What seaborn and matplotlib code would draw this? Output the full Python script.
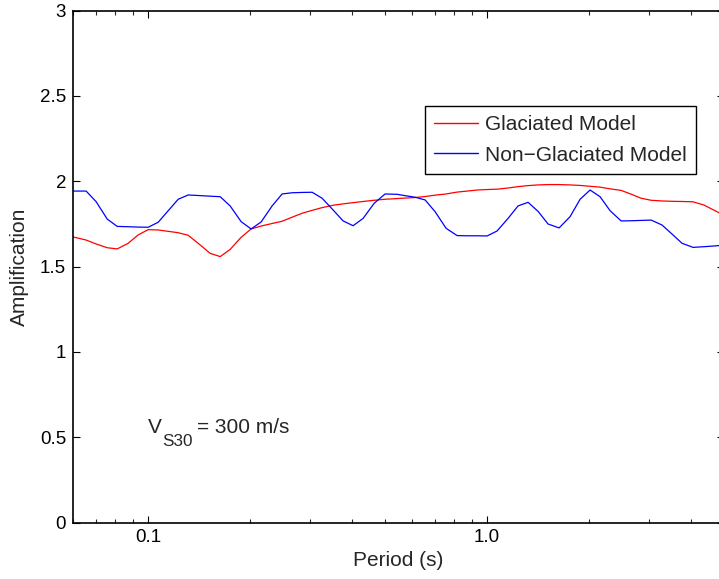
import numpy as np
import pandas as pd
import matplotlib
matplotlib.use("Agg")
import matplotlib.pyplot as plt
import seaborn as sns

periods = [0.0601, 0.0656, 0.0702, 0.0757, 0.0810, 0.0873, 0.0934, 0.100, 0.107, 0.1146,
           0.1226, 0.1312, 0.1404, 0.1524, 0.1631, 0.1745, 0.188, 0.2012, 0.2154, 0.2321,
           0.2484, 0.2659, 0.2846, 0.3046, 0.326, 0.3513, 0.376, 0.4024, 0.4307, 0.4641,
           0.500, 0.5427, 0.5729, 0.6132, 0.6563, 0.7024, 0.7568, 0.8159, 0.873, 0.934,
           1.0, 1.07, 1.153, 1.234, 1.321, 1.414, 1.513, 1.631, 1.757, 1.881,
           2.013, 2.154, 2.306, 2.485, 2.66, 2.847, 3.047, 3.282, 3.513, 3.76,
           4.053, 4.366, 4.80, 5.0]

glaciated = [1.673, 1.655, 1.632, 1.610, 1.603, 1.636, 1.685, 1.716, 1.714, 1.706,
             1.698, 1.683, 1.636, 1.577, 1.558, 1.600, 1.671, 1.720, 1.737, 1.752,
             1.765, 1.789, 1.812, 1.829, 1.845, 1.859, 1.867, 1.874, 1.881, 1.888,
             1.894, 1.898, 1.901, 1.904, 1.910, 1.918, 1.925, 1.936, 1.942, 1.948,
             1.951, 1.953, 1.960, 1.968, 1.974, 1.978, 1.980, 1.980, 1.978, 1.975,
             1.970, 1.965, 1.955, 1.946, 1.924, 1.900, 1.888, 1.884, 1.882, 1.881,
             1.879, 1.860, 1.818, 1.800]

non_glaciated = [1.942, 1.942, 1.880, 1.778, 1.735, 1.733, 1.731, 1.730, 1.759, 1.827,
                 1.894, 1.919, 1.916, 1.912, 1.909, 1.855, 1.763, 1.720, 1.761, 1.855,
                 1.925, 1.932, 1.934, 1.935, 1.900, 1.831, 1.767, 1.739, 1.782, 1.870,
                 1.925, 1.923, 1.915, 1.906, 1.890, 1.821, 1.724, 1.681, 1.680, 1.680,
                 1.679, 1.708, 1.782, 1.855, 1.876, 1.823, 1.749, 1.726, 1.792, 1.894,
                 1.948, 1.909, 1.827, 1.767, 1.768, 1.770, 1.772, 1.743, 1.690, 1.636,
                 1.612, 1.616, 1.622, 1.625]

series_names = ["Glaciated Model", "Non\u2212Glaciated Model"]
series_colors = ["#ff0000", "#0000ff"]
y_ticks = [0, 0.5, 1, 1.5, 2, 2.5, 3]
y_tick_labels = ["0", "0.5", "1", "1.5", "2", "2.5", "3"]
x_ticks = [0.1, 1.0]
x_tick_labels = ["0.1", "1.0"]

df = pd.concat([
    pd.DataFrame({"Period": periods, "Amplification": glaciated, "Model": series_names[0]}),
    pd.DataFrame({"Period": periods, "Amplification": non_glaciated, "Model": series_names[1]}),
])

sns.set_style("ticks")
plt.rcParams["font.family"] = ["Liberation Sans", "DejaVu Sans"]

W, H = 719, 579
fig = plt.figure(figsize=(W / 100, H / 100), dpi=100)
ax = fig.add_axes([73 / W, 1 - 522.5 / H, (724 - 73) / W, (522.5 - 10.5) / H])

sns.lineplot(data=df, x="Period", y="Amplification", hue="Model",
             palette=dict(zip(series_names, series_colors)), estimator=None,
             sort=False, linewidth=0.9, ax=ax)

ax.set_xscale("log")
ax.set_xlim(0.06, 5.0)
ax.set_ylim(0, 3)
ax.set_yticks(y_ticks)
ax.set_yticklabels(y_tick_labels)
ax.set_xticks(x_ticks)
ax.set_xticklabels(x_tick_labels)
ax.xaxis.set_minor_locator(matplotlib.ticker.LogLocator(base=10, subs=np.arange(2, 10)))
ax.xaxis.set_minor_formatter(matplotlib.ticker.NullFormatter())

fs = 13.5
fl = 15
ax.tick_params(axis="both", which="major", direction="in", length=5, width=0.8,
               top=True, right=True, labelsize=fs, pad=5, colors="black")
ax.tick_params(axis="x", which="minor", direction="in", length=3, width=0.8,
               top=True, bottom=True)
for s in ax.spines.values():
    s.set_linewidth(1.2)
    s.set_color("black")

ax.set_xlabel("Period (s)", fontsize=fl, labelpad=3)
ax.set_ylabel("Amplification", fontsize=fl, labelpad=8)

leg = ax.legend(loc="upper right", bbox_to_anchor=(696 / W, 1 - 106 / H),
                bbox_transform=fig.transFigure, borderaxespad=0, fontsize=fl,
                fancybox=False, frameon=True, edgecolor="black", framealpha=1,
                handlelength=2.1, handletextpad=0.34, labelspacing=0.54,
                borderpad=0.45, title=None)
leg.get_frame().set_linewidth(1.0)
for line in leg.get_lines():
    line.set_linewidth(1.0)

# annotation V_S30
fig.text(148 / W, 1 - 433.3 / H, "V", fontsize=fl, va="baseline", ha="left")
fig.text(162 / W, 1 - 446.5 / H, "S30", fontsize=fl * 0.82, va="baseline", ha="left")
fig.text(197 / W, 1 - 433.3 / H, "= 300 m/s", fontsize=fl, va="baseline", ha="left")

fig.savefig("out.png", dpi=100)
